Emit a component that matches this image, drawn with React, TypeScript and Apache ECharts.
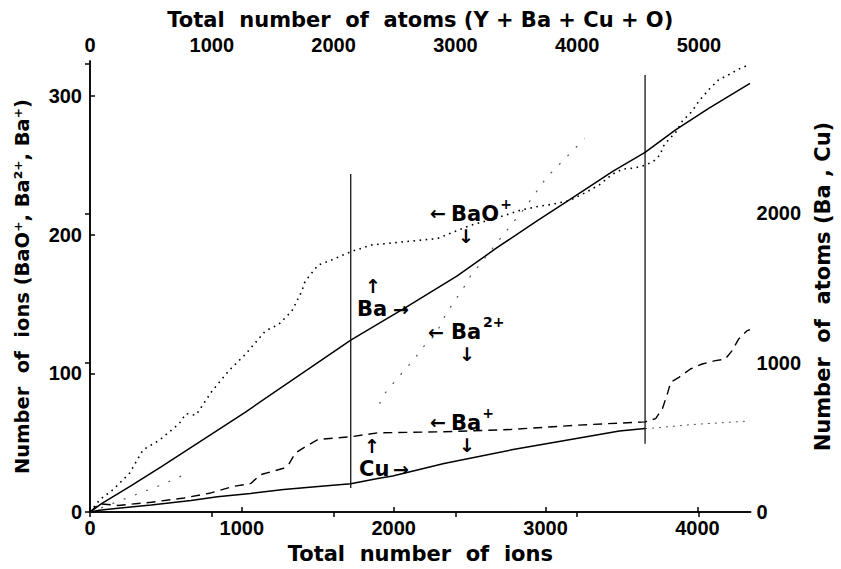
import React, { useEffect, useRef } from "react";
import * as echarts from "echarts";

// Total number of ions (bottom axis) vs number of atoms (right axis)
const baAtoms: [number, number][] = [
  [0, 0], [76, 57], [261, 170], [468, 303], [1024, 670], [1717, 1152], [2080, 1370],
  [2418, 1581], [2680, 1770], [2941, 1948], [3159, 2092], [3442, 2281], [3655, 2408],
  [3856, 2559], [4074, 2703], [4346, 2870],
];
const cuAtoms: [number, number][] = [
  [0, 0], [60, 12], [185, 25], [403, 48], [665, 77], [839, 103], [1057, 125], [1275, 152],
  [1503, 172], [1717, 190], [1895, 225], [1993, 241], [2331, 325], [2767, 415], [3203, 492],
  [3486, 543], [3655, 559],
];
const cuAtomsTail: [number, number][] = [[3655, 559], [3704, 562], [3965, 586], [4346, 610]];

// Number of ions (left axis)
const baoIons: [number, number][] = [
  [0, 0], [65, 9], [152, 16.2], [261, 28.1], [349, 44.8], [458, 51.9], [588, 63.8], [632, 70.9],
  [697, 69.8], [806, 87.6], [915, 101.9], [1024, 113.8], [1155, 130.5], [1242, 135.2],
  [1329, 144.8], [1394, 159], [1416, 166.2], [1503, 178], [1590, 181.6], [1717, 187.6],
  [1852, 192.4], [2070, 194.8], [2288, 197.1], [2397, 201.9], [2505, 206.6], [2680, 212],
  [2832, 217.4], [2941, 220], [3061, 222.1], [3159, 224.5], [3268, 230.5], [3353, 235.7],
  [3442, 243.6], [3508, 247.1], [3584, 247.9], [3660, 250], [3714, 253.1], [3758, 257.9],
  [3769, 262.6], [3812, 268.6], [3856, 273.4], [3900, 281.6], [3965, 288.8], [4008, 295.9],
  [4074, 304.3], [4139, 311.4], [4216, 315.7], [4270, 319.1], [4335, 322.1],
];
const ba2Ions: [number, number | null][] = [
  [0, 0], [458, 19.1], [621, 26.9], [1200, null],
  [1907, 78.1], [1939, 85.2], [1993, 92.4], [2059, 100.7], [2135, 110.2], [2201, 119.8],
  [2255, 125.7], [2288, 130.5], [2342, 142.4], [2473, 163.8], [2495, 168.6], [2876, 220.9],
  [3007, 241.2], [3257, 269.1],
];
const baPlusIons: [number, number][] = [
  [0, 0], [60, 6], [185, 4.8], [403, 7.1], [621, 10.2], [795, 13.8], [948, 18.6], [1057, 20.5],
  [1122, 26.9], [1275, 31.6], [1307, 34], [1351, 42.4], [1416, 47], [1503, 52.4], [1717, 54.3],
  [1895, 57.1], [2331, 57.9], [2767, 59.5], [3203, 62.6], [3655, 65], [3725, 67.4],
  [3769, 74.5], [3802, 85.2], [3824, 93.6], [3878, 97.1], [3954, 103.1], [4031, 106.7],
  [4118, 109.1], [4183, 110.2], [4227, 116.2], [4270, 124.5], [4325, 130.5], [4346, 131.5],
];

// Vertical marker lines (ions position, low, high in ion units)
const markerIons = [1717, 3655];
const markerLow = [17.4, 49.3];
const markerHigh = [243.6, 315];

// Axis ranges and tick steps
const ionsMax = 4350;
const atomsTotalMax = 5424;
const ionsCountMax = 325;
const atomsCountMax = 3020;
const tickStep = 1000;
const ionTickStep = 100;
const atomsCountLabelTop = 2000; // highest labelled tick on the right axis

const TICK_FONT = "Liberation Sans";
const TITLE_FONT = "DejaVu Sans";
const W = 841;
const H = 569;

export default function App() {
  const ref = useRef<HTMLDivElement>(null);
  useEffect(() => {
    document.body.style.margin = "0";
    document.body.style.overflow = "hidden";
    document.documentElement.style.overflow = "hidden";
    const chart = echarts.init(ref.current!, null, { renderer: "svg", width: W, height: H });
    const axisLine = { show: true, lineStyle: { color: "#000", width: 1.5 } };
    const axisTick = { show: true, inside: true, length: 5, lineStyle: { color: "#000", width: 1.5 } };
    const label = (margin: number, limit = Infinity) => ({
      color: "#000", fontFamily: TICK_FONT, fontWeight: "bold", fontSize: 20, margin,
      showMaxLabel: false,
      formatter: (v: number) => (v > limit ? "" : String(v)),
    });
    const nameStyle = { color: "#000", fontFamily: TITLE_FONT, fontWeight: "bold", fontSize: 21 };
    const base = { type: "line", showSymbol: false, symbol: "none", silent: true, xAxisIndex: 0 };
    const markers = markerIons.map((x, i) => ({
      ...base, yAxisIndex: 0, z: 4,
      data: [[x, markerLow[i]], [x, markerHigh[i]]],
      lineStyle: { color: "#000", width: 1.2 },
    }));
    const txt = (text: string, x: number, y: number, size: number, align = "left") => ({
      type: "text", x, y, z: 10, silent: true,
      style: { text, fontSize: size, fontFamily: TITLE_FONT, fontWeight: "bold", fill: "#000", align, verticalAlign: "middle" },
    });
    const AR = 19;
    chart.setOption({
      animation: false,
      backgroundColor: "#fff",
      grid: { left: 90, right: 84, top: 61, bottom: 53, containLabel: false },
      xAxis: [
        {
          type: "value", position: "bottom", min: 0, max: ionsMax, interval: tickStep,
          axisLine, axisTick, axisLabel: label(6), splitLine: { show: false },
          name: "Total\u00A0 number\u00A0 of\u00A0 ions", nameLocation: "middle", nameGap: 24, nameTextStyle: nameStyle,
        },
        {
          type: "value", position: "top", min: 0, max: atomsTotalMax, interval: tickStep,
          axisLine, axisTick, axisLabel: label(6), splitLine: { show: false },
          name: "Total\u00A0 number\u00A0 of\u00A0 atoms (Y + Ba + Cu + O)", nameLocation: "middle", nameGap: 28, nameTextStyle: nameStyle,
        },
      ],
      yAxis: [
        {
          type: "value", position: "left", min: 0, max: ionsCountMax, interval: ionTickStep,
          axisLine, axisTick, axisLabel: label(8), splitLine: { show: false },
          name: "Number\u00A0 of\u00A0 ions (BaO\u207A, Ba\u00B2\u207A, Ba\u207A)", nameLocation: "middle", nameGap: 58, nameRotate: 90,
          nameTextStyle: { ...nameStyle, fontSize: 19.5 },
        },
        {
          type: "value", position: "right", min: 0, max: atomsCountMax, interval: tickStep,
          axisLine, axisTick, axisLabel: label(6, atomsCountLabelTop), splitLine: { show: false },
          name: "Number\u00A0 of\u00A0 atoms (Ba , Cu)", nameLocation: "middle", nameGap: 58, nameRotate: 90,
          nameTextStyle: nameStyle,
        },
      ],
      series: [
        { ...base, name: "Ba", yAxisIndex: 1, data: baAtoms, lineStyle: { color: "#000", width: 1.5 } },
        { ...base, name: "Cu", yAxisIndex: 1, data: cuAtoms, lineStyle: { color: "#000", width: 1.5 } },
        { ...base, name: "Cu tail", yAxisIndex: 1, data: cuAtomsTail, lineStyle: { color: "#555", width: 1, type: [2, 5] } },
        { ...base, name: "BaO+", yAxisIndex: 0, data: baoIons, lineStyle: { color: "#000", width: 1.6, type: [1.6, 4.5] } },
        { ...base, name: "Ba2+", yAxisIndex: 0, data: ba2Ions, connectNulls: false, lineStyle: { color: "#555", width: 1.2, type: [2, 10] } },
        { ...base, name: "Ba+", yAxisIndex: 0, data: baPlusIons, lineStyle: { color: "#000", width: 1.4, type: [9, 6] } },
        ...markers,
      ],
      graphic: [
        txt("\u2190", 438, 213, AR, "center"), txt("BaO", 451, 214, 21), txt("+", 506, 204, 14, "center"), txt("\u2193", 466, 236, AR, "center"),
        txt("\u2191", 373, 286, AR, "center"), txt("Ba", 357, 309, 21), txt("\u2192", 401, 309, AR, "center"),
        txt("\u2190", 436, 332, AR, "center"), txt("Ba", 451, 332, 21), txt("2+", 483, 322, 14), txt("\u2193", 467, 354, AR, "center"),
        txt("\u2190", 438, 422, AR, "center"), txt("Ba", 451, 423, 21), txt("+", 488, 413, 14, "center"), txt("\u2193", 467, 445, AR, "center"),
        txt("\u2191", 372, 446, AR, "center"), txt("Cu", 359, 469, 21), txt("\u2192", 401, 469, AR, "center"),
      ],
    });
    return () => chart.dispose();
  }, []);
  return <div ref={ref} style={{ width: W, height: H }} />;
}
